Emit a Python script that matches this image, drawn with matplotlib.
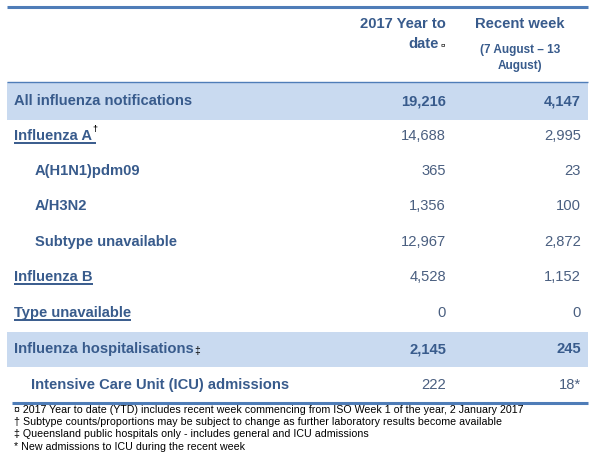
import matplotlib
matplotlib.use("Agg")
import matplotlib.pyplot as plt
from matplotlib.patches import Rectangle

plt.rcParams['font.family'] = ['Liberation Sans', 'DejaVu Sans']

col_headers = ["2017 Year to\ndate", "Recent week"]
col_sub = "(7 August – 13\nAugust)"
labels = ["All influenza notifications", "Influenza A", "A(H1N1)pdm09", "A/H3N2",
          "Subtype unavailable", "Influenza B", "Type unavailable",
          "Influenza hospitalisations", "Intensive Care Unit (ICU) admissions"]
ytd = ["19,216", "14,688", "365", "1,356", "12,967", "4,528", "0", "2,145", "222"]
recent = ["4,147", "2,995", "23", "100", "2,872", "1,152", "0", "245", "18*"]
label_marks = ["", "†", "", "", "", "", "", "‡", ""]
indent = [0, 0, 1, 1, 1, 0, 0, 0, 1]
shaded = [True, False, False, False, False, False, False, True, False]
underlined = [False, True, False, False, False, True, True, False, False]
footnotes = ["¤ 2017 Year to date (YTD) includes recent week commencing from ISO Week 1 of the year, 2 January 2017",
             "† Subtype counts/proportions may be subject to change as further laboratory results become available",
             "‡ Queensland public hospitals only - includes general and ICU admissions",
             "* New admissions to ICU during the recent week"]

W, H = 601, 454
fig = plt.figure(figsize=(W / 100, H / 100), dpi=100)
ax = fig.add_axes([0, 0, 1, 1])
ax.set_xlim(0, W)
ax.set_ylim(H, 0)
ax.axis('off')

TXT = '#385b8c'
NUM = '#4a5f80'
SHADE = '#c9daf0'
LINE = '#4f7db8'
fs = 10.6

row_y = [101, 136, 171, 206, 242, 277, 313, 349, 385]
row_h = [38, 35, 35, 35, 35, 35, 35, 35, 35]
x0, x1 = 7, 588
c1, c2 = 446, 581

# lines
ax.plot([x0, x1], [6.5, 6.5], color=LINE, lw=2.2, solid_capstyle='butt')
ax.plot([x0, x1], [82, 82], color=LINE, lw=1.0, solid_capstyle='butt')
ax.plot([12, x1], [402.5, 402.5], color=LINE, lw=2.2, solid_capstyle='butt')

# header
ax.text(c1, 24, "2017 Year to", ha='right', va='center', fontsize=fs, fontweight='bold', color=TXT)
ax.text(c1 - 7, 44, "date", ha='right', va='center', fontsize=fs, fontweight='bold', color=TXT)
ax.text(c1 - 1, 46, "¤", ha='right', va='center', fontsize=6, color='black')
ax.text(520, 24, col_headers[1], ha='center', va='center', fontsize=fs, fontweight='bold', color=TXT)
ax.text(520, 50, "(7 August – 13", ha='center', va='center', fontsize=8.5, fontweight='bold', color=TXT)
ax.text(520, 66, "August)", ha='center', va='center', fontsize=8.5, fontweight='bold', color=TXT)

fig.canvas.draw()
rend = fig.canvas.get_renderer()

for i, lab in enumerate(labels):
    y = row_y[i]
    if shaded[i]:
        ax.add_patch(Rectangle((x0, y - row_h[i] / 2), x1 - x0, row_h[i], facecolor=SHADE, edgecolor='none', zorder=0))
    lx = 14 + 21 * indent[i]
    if i == 8:
        lx = 31
    t = ax.text(lx, y, lab, ha='left', va='center', fontsize=fs, fontweight='bold', color=TXT)
    bb = t.get_window_extent(rend)
    right = bb.x1
    if label_marks[i] == "†":
        ax.text(right + 0.5, y - 6, "†", ha='left', va='center', fontsize=6.5, fontweight='bold', color='black')
        right += 4
    elif label_marks[i] == "‡":
        ax.text(right + 0.5, y + 2, "‡", ha='left', va='center', fontsize=7.5, color='black')
    if underlined[i]:
        ax.plot([lx, right], [y + 7.2, y + 7.2], color=TXT, lw=1.4, solid_capstyle='butt')
    w = 'bold' if shaded[i] else 'normal'
    col = TXT if shaded[i] else NUM
    ax.text(c1, y, ytd[i], ha='right', va='center', fontsize=fs, fontweight=w, color=col)
    ax.text(c2, y, recent[i], ha='right', va='center', fontsize=fs, fontweight=w, color=col)

for k, fn in enumerate(footnotes):
    ax.text(14, 410 + 12.2 * k, fn, ha='left', va='center', fontsize=7.62, color='black')

fig.savefig("out.png", dpi=100)
